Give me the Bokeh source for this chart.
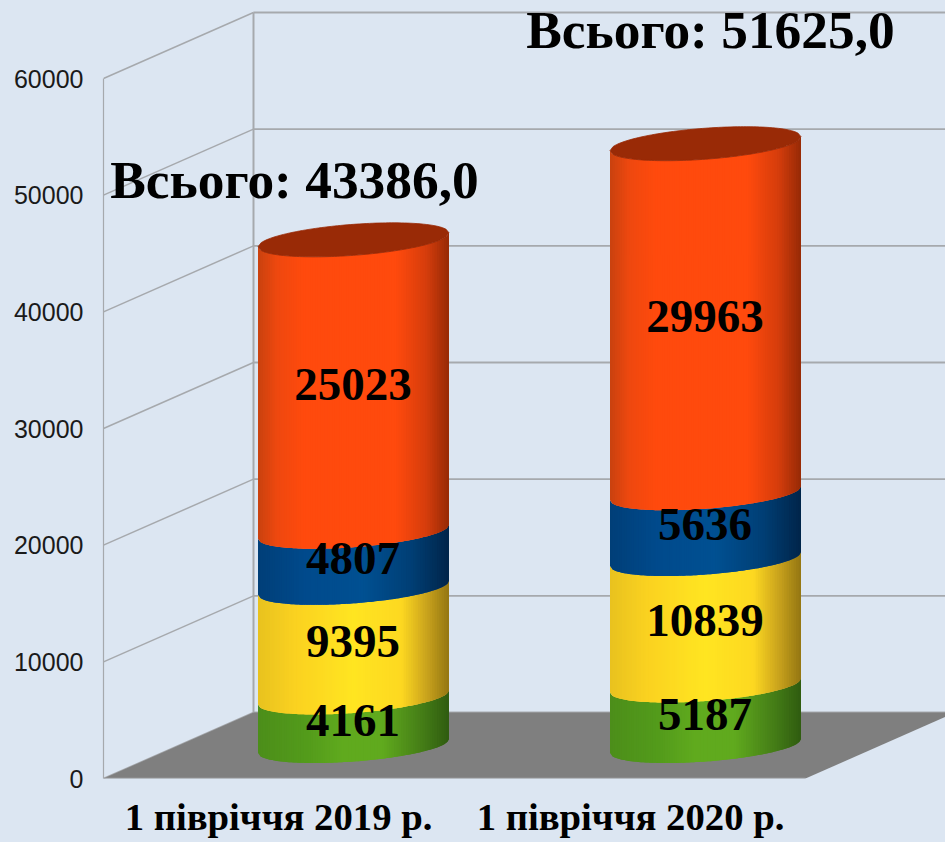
from bokeh.plotting import figure
from bokeh.models import FixedTicker, Range1d
from bokeh.core.properties import value
from bokeh.embed import file_html
from bokeh.resources import INLINE
import math

# ---- data ----
periods = ["1 півріччя 2019 р.", "1 півріччя 2020 р."]
green = [4161, 5187]
yellow = [9395, 10839]
blue = [4807, 5636]
orange = [25023, 29963]
totals = ["Всього: 43386,0", "Всього: 51625,0"]
y_ticks = [0, 10000, 20000, 30000, 40000, 50000, 60000]

# ---- style ----
BG = "#dce6f2"
GRID = "#a6a9ad"
W, H = 945, 842
PLOT_L, PLOT_B = 103, 778            # pixel position of the axes origin
PX_PER_UNIT = 700 / 60000
CAT_STEP = 352                       # pixels between categories
CAT0 = 278
DEPTH_X, DEPTH_Y = 150, 66           # wall depth in pixels
N = 80

gradients = {
    "orange": [(0, "#c9420f"), (.10, "#ee480f"), (.24, "#ff4a0d"), (.72, "#ff4a0d"), (.88, "#d63d0c"), (1, "#962a06")],
    "blue":   [(0, "#003f78"), (.25, "#004a8c"), (.55, "#005092"), (.80, "#003f75"), (1, "#00254a")],
    "yellow": [(0, "#e8c21f"), (.20, "#fbd220"), (.50, "#ffe521"), (.75, "#fdd821"), (.88, "#cba41d"), (1, "#937612")],
    "green":  [(0, "#4c8e1a"), (.25, "#539b1b"), (.45, "#60aa1e"), (.65, "#60aa1e"), (.85, "#467f17"), (1, "#2f5c10")],
}
TOP_COLOR = "#992a06"


def hexrgb(h):
    return tuple(int(h[i:i + 2], 16) for i in (1, 3, 5))


def shade(stops, t):
    for (a, ca), (b, cb) in zip(stops, stops[1:]):
        if t <= b:
            f = (t - a) / (b - a)
            ra, rb = hexrgb(ca), hexrgb(cb)
            return "#%02x%02x%02x" % tuple(round(x + (y - x) * f) for x, y in zip(ra, rb))
    return stops[-1][1]


def cat_x(px):
    return (px - CAT0) / CAT_STEP


def val_y(px_from_origin):
    return px_from_origin / PX_PER_UNIT


p = figure(width=W, height=H, output_backend="svg", toolbar_location=None,
           x_range=Range1d(cat_x(PLOT_L), cat_x(W)),
           y_range=Range1d(0, val_y(PLOT_B)),
           min_border_left=PLOT_L, min_border_right=0, min_border_top=0,
           min_border_bottom=H - PLOT_B,
           background_fill_color=BG, border_fill_color=BG, outline_line_color=None)
p.grid.visible = False

# ---- axes ----
p.yaxis.ticker = FixedTicker(ticks=y_ticks)
p.yaxis.bounds = (0, 60000)
p.yaxis.major_tick_line_color = None
p.yaxis.minor_tick_line_color = None
p.yaxis.axis_line_color = GRID
p.yaxis.axis_line_width = 1.2
p.yaxis.major_label_standoff = 14
p.yaxis.major_label_text_font = "Liberation Sans"
p.yaxis.major_label_text_font_size = "25px"
p.yaxis.major_label_text_color = "#1a1a1a"
p.yaxis.formatter.use_scientific = False

p.xaxis.ticker = FixedTicker(ticks=[0, 1])
p.xaxis.major_label_overrides = {0: periods[0], 1: periods[1]}
p.xaxis.axis_line_color = None
p.xaxis.major_tick_line_color = None
p.xaxis.minor_tick_line_color = None
p.xaxis.major_label_standoff = 11
p.xaxis.major_label_text_font = "Liberation Serif"
p.xaxis.major_label_text_font_style = "bold"
p.xaxis.major_label_text_font_size = "38.7px"
p.xaxis.major_label_text_color = "#000000"

# ---- walls and floor ----
dv = val_y(DEPTH_Y)
xl, xb = cat_x(PLOT_L), cat_x(PLOT_L + DEPTH_X)
xfr = cat_x(805)
xbr = cat_x(805 + DEPTH_X)

p.segment(x0=[xb] * len(y_ticks), y0=[t + dv for t in y_ticks], x1=[xbr] * len(y_ticks),
          y1=[t + dv for t in y_ticks], line_color=GRID, line_width=1.8)
p.segment(x0=[xl] * len(y_ticks), y0=y_ticks, x1=[xb] * len(y_ticks),
          y1=[t + dv for t in y_ticks], line_color=GRID, line_width=1.5)
p.segment(x0=[xb], y0=[dv], x1=[xb], y1=[60000 + dv], line_color=GRID, line_width=2)
p.patch([xl, xb, xbr, xfr], [0, dv, dv, 0], fill_color="#7f7f7f", line_color=None)
p.segment(x0=[xl], y0=[0], x1=[xfr], y1=[0], line_color=GRID, line_width=1.5)

# ---- cylinders ----
BASE = val_y(32.5)           # cylinder centre line sits half-way across the floor
OFF = 75 / CAT_STEP          # centre of the cylinder, in category units
HW = 95.5 / CAT_STEP         # half width
TILT = val_y(7)
SAG = val_y(15.5)


def front(level, u):
    return level + BASE + TILT * u - SAG * math.sqrt(max(0, 1 - u * u))


def back(level, u):
    return level + BASE + TILT * u + SAG * math.sqrt(max(0, 1 - u * u))


xs, ys, cols = [], [], []
series = [("green", green), ("yellow", yellow), ("blue", blue), ("orange", orange)]
for i in range(2):
    cx = i + OFF
    level = 0
    for name, vals in series:
        lo, hi = level, level + vals[i]
        for k in range(N):
            u0 = -1 + 2 * k / N
            u1 = min(1, -1 + 2 * (k + 2) / N)      # overlaps the next strip, so no seams show
            steps = [u0, (u0 + u1) / 2, u1]
            xs.append([cx + HW * u for u in steps] + [cx + HW * u for u in reversed(steps)])
            ys.append([front(lo, u) for u in steps] + [front(hi, u) for u in reversed(steps)])
            cols.append(shade(gradients[name], (k + .5) / N))
        level = hi
p.patches(xs, ys, fill_color=cols, line_color=None)

for i in range(2):
    cx = i + OFF
    level = green[i] + yellow[i] + blue[i] + orange[i]
    us = [-1 + 2 * k / 60 for k in range(61)]
    ex = [cx + HW * u for u in us] + [cx + HW * u for u in reversed(us)]
    ey = [front(level, u) for u in us] + [back(level, u) for u in reversed(us)]
    p.patch(ex, ey, fill_color=TOP_COLOR, line_color=TOP_COLOR, line_width=0.8)

# ---- value labels ----
lx, ly, lt = [], [], []
for i in range(2):
    level = 0
    for name, vals in series:
        lx.append(i + OFF)
        ly.append(level + vals[i] / 2 + BASE)
        lt.append(str(vals[i]))
        level += vals[i]
p.text(lx, ly, text=lt, text_font=value("Liberation Serif"), text_font_style="bold",
       text_font_size="47px", text_align="center", text_baseline="middle", text_color="#000000",
       x_offset=-0.5, y_offset=-1.5)

# ---- totals ----
total_dx = [-59 / CAT_STEP, 5 / CAT_STEP]
total_dy = [val_y(58.5), val_y(113)]
tx, ty = [], []
for i in range(2):
    level = green[i] + yellow[i] + blue[i] + orange[i]
    tx.append(i + OFF + total_dx[i])
    ty.append(level + BASE + total_dy[i])
p.text(tx, ty, text=totals, text_font=value("Liberation Serif"), text_font_style="bold",
       text_font_size="53.4px", text_align="center", text_baseline="middle", text_color="#000000",
       y_offset=-1)

html = file_html(p, INLINE).replace(
    "</head>", "<style>html,body{margin:0;padding:0;background:%s;overflow:hidden}</style></head>" % BG, 1)
open("out.html", "w").write(html)
